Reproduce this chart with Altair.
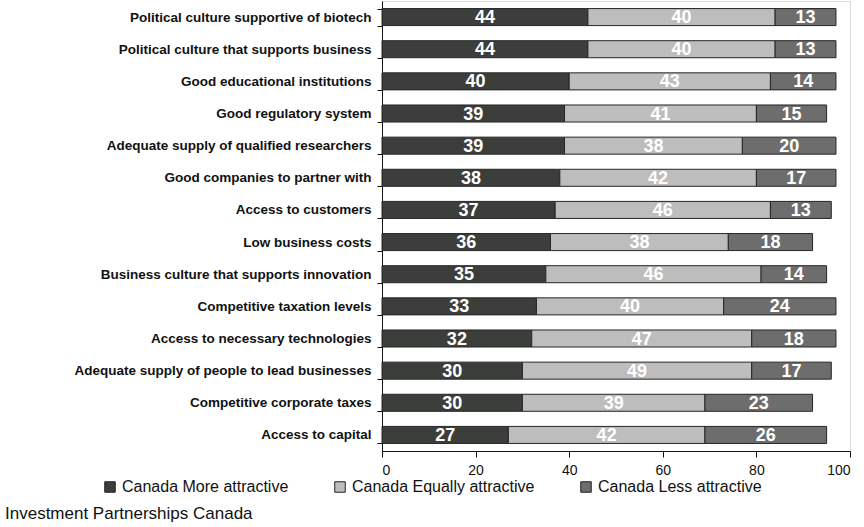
import altair as alt
import pandas as pd

categories = [
    "Political culture supportive of biotech",
    "Political culture that supports business",
    "Good educational institutions",
    "Good regulatory system",
    "Adequate supply of qualified researchers",
    "Good companies to partner with",
    "Access to customers",
    "Low business costs",
    "Business culture that supports innovation",
    "Competitive taxation levels",
    "Access to necessary technologies",
    "Adequate supply of people to lead businesses",
    "Competitive corporate taxes",
    "Access to capital",
]
more_attractive = [44, 44, 40, 39, 39, 38, 37, 36, 35, 33, 32, 30, 30, 27]
equally_attractive = [40, 40, 43, 41, 38, 42, 46, 38, 46, 40, 47, 49, 39, 42]
less_attractive = [13, 13, 14, 15, 20, 17, 13, 18, 14, 24, 18, 17, 23, 26]
series = ["Canada More attractive", "Canada Equally attractive", "Canada Less attractive"]
colors = ["#3b3e3b", "#bdbdbd", "#6d6d6d"]

rows = []
for i, cat in enumerate(categories):
    for k, vals in enumerate([more_attractive, equally_attractive, less_attractive]):
        rows.append({"category": cat, "series": series[k], "order": k, "value": vals[i]})
df = pd.DataFrame(rows)

FONT = "Liberation Sans"

base = alt.Chart(df)

y_enc = alt.Y(
    "category:N",
    sort=categories,
    title=None,
    scale=alt.Scale(paddingInner=0.47, paddingOuter=0.235),
    axis=alt.Axis(
        labelFont=FONT,
        labelFontWeight="bold",
        labelFontSize=13.5,
        labelColor="#111111",
        labelPadding=6,
        labelLimit=400,
        tickBand="extent",
        tickSize=5,
        tickColor="#111111",
        domainColor="#111111",
        grid=False,
    ),
)

bars = base.mark_bar(stroke="#262626", strokeWidth=1).encode(
    x=alt.X(
        "value:Q",
        stack="zero",
        scale=alt.Scale(domain=[0, 100], nice=False),
        title=None,
        axis=alt.Axis(
            values=[0, 20, 40, 60, 80, 100],
            labelFont=FONT,
            labelFontSize=14,
            labelColor="#111111",
            labelPadding=6,
            tickSize=6,
            tickColor="#111111",
            domainColor="#111111",
            grid=False,
        ),
    ),
    y=y_enc,
    color=alt.Color(
        "series:N",
        sort=series,
        scale=alt.Scale(domain=series, range=colors),
        legend=alt.Legend(
            title=None,
            orient="none",
            direction="horizontal",
            legendX=-280,
            legendY=478,
            symbolType="square",
            symbolSize=110,
            symbolStrokeColor="#222222",
            symbolStrokeWidth=1,
            labelFont=FONT,
            labelFontSize=16,
            labelColor="#111111",
            labelOffset=4,
            columnPadding=43,
            labelLimit=400,
        ),
    ),
    order=alt.Order("order:Q"),
)

labels = (
    base.transform_window(
        cum="sum(value)", groupby=["category"], sort=[alt.SortField("order")], frame=[None, 0]
    )
    .transform_calculate(mid="datum.cum - datum.value / 2")
    .mark_text(color="white", font=FONT, fontWeight="bold", fontSize=18, baseline="middle", dy=1)
    .encode(
        x=alt.X("mid:Q"),
        y=alt.Y("category:N", sort=categories),
        text=alt.Text("value:Q"),
    )
)

chart = (
    alt.layer(bars, labels)
    .properties(
        width=468,
        height=450,
        autosize=alt.AutoSizeParams(type="none"),
        padding={"left": 382, "top": 1, "right": 14, "bottom": 76},
        title=alt.TitleParams(
            "Investment Partnerships Canada",
            orient="bottom",
            anchor="start",
            frame="group",
            dx=-377,
            font=FONT,
            fontSize=17,
            fontWeight="normal",
            color="#111111",
            offset=11,
        ),
    )
    .configure_view(stroke=None)
    .configure(background="white")
)

chart.save("out.html", embed_options={"renderer": "svg", "actions": False})
